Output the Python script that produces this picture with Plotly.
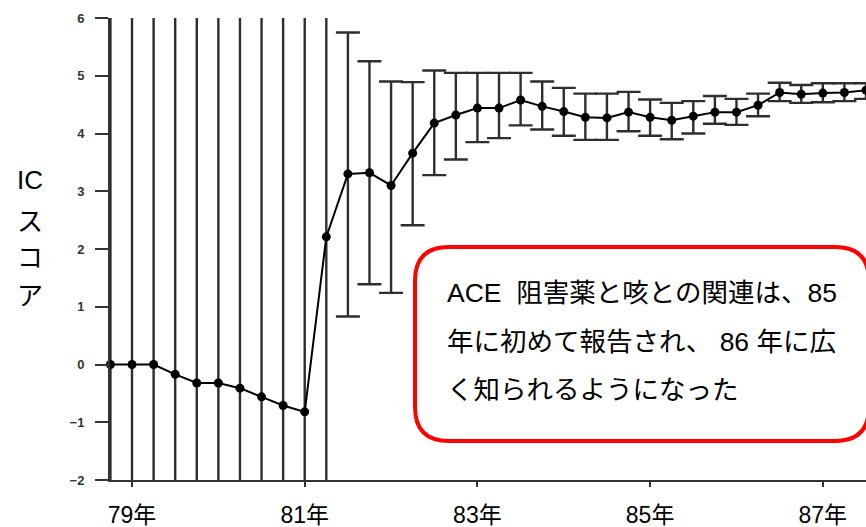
import plotly.graph_objects as go

# ---- data (quarterly IC score) ----
quarters = [78.75, 79.0, 79.25, 79.5, 79.75, 80.0, 80.25, 80.5, 80.75, 81.0,
            81.25, 81.5, 81.75, 82.0, 82.25, 82.5, 82.75, 83.0, 83.25, 83.5,
            83.75, 84.0, 84.25, 84.5, 84.75, 85.0, 85.25, 85.5, 85.75, 86.0,
            86.25, 86.5, 86.75, 87.0, 87.25, 87.5]
ic_score = [0.0, 0.0, 0.0, -0.17, -0.32, -0.32, -0.41, -0.56, -0.71, -0.82,
            2.21, 3.30, 3.32, 3.10, 3.66, 4.18, 4.32, 4.44, 4.44, 4.58,
            4.47, 4.38, 4.28, 4.27, 4.37, 4.28, 4.23, 4.30, 4.37, 4.37,
            4.49, 4.71, 4.68, 4.70, 4.71, 4.75]
ic_upper = [8, 8, 8, 8, 8, 8, 8, 8, 8, 8,
            8, 5.75, 5.25, 4.90, 4.89, 5.09, 5.05, 5.05, 5.05, 5.05,
            4.90, 4.79, 4.69, 4.69, 4.72, 4.59, 4.53, 4.56, 4.65, 4.60,
            4.69, 4.88, 4.84, 4.87, 4.87, 4.87]
ic_lower = [-4, -4, -4, -4, -4, -4, -4, -4, -4, -4,
            -4, 0.83, 1.39, 1.24, 2.41, 3.28, 3.55, 3.85, 3.92, 4.14,
            4.07, 3.96, 3.89, 3.89, 4.04, 3.96, 3.90, 4.00, 4.17, 4.15,
            4.30, 4.56, 4.53, 4.54, 4.56, 4.60]
x_tick_vals = [79, 81, 83, 85, 87]
x_tick_text = ["79年", "81年", "83年", "85年", "87年"]
y_tick_vals = [-2, -1, 0, 1, 2, 3, 4, 5, 6]
y_title_lines = ["IC", "ス", "コ", "ア"]
note_lines = ["ACE  阻害薬と咳との関連は、85",
              "年に初めて報告され、 86 年に広",
              "く知られるようになった"]

err_plus = [u - v for u, v in zip(ic_upper, ic_score)]
err_minus = [v - l for v, l in zip(ic_score, ic_lower)]

W, H = 866, 527
L, R, T, B = 110, 0, 18, 47
PW, PH = W - L - R, H - T - B


def px_x(p):
    return (p - L) / PW


def px_y(p):
    return (H - B - p) / PH


fig = go.Figure()
# error bars (clipped to plot area)
fig.add_trace(go.Scatter(
    x=quarters, y=ic_score, mode="markers",
    marker=dict(size=1, color="rgba(0,0,0,0)"),
    error_y=dict(type="data", symmetric=False, array=err_plus, arrayminus=err_minus,
                 color="#2e2e2e", thickness=2.4, width=12),
    cliponaxis=True, showlegend=False, hoverinfo="skip"))
# line + markers
fig.add_trace(go.Scatter(
    x=quarters, y=ic_score, mode="lines+markers",
    line=dict(color="#000000", width=2),
    marker=dict(size=9, color="#000000"),
    cliponaxis=False, showlegend=False))

AX = "#333333"
fig.update_xaxes(range=[78.745, 87.5], tickmode="array", tickvals=x_tick_vals,
                 ticktext=x_tick_text, ticks="outside", ticklen=5, tickwidth=2,
                 tickcolor=AX, showline=True, linecolor=AX, linewidth=2,
                 showgrid=False, zeroline=False, ticklabelstandoff=8,
                 automargin=False,
                 tickfont=dict(family="Liberation Sans, Noto Sans CJK JP", size=23,
                               color="#000000"))
fig.update_yaxes(range=[-2, 6], tickmode="array", tickvals=y_tick_vals,
                 ticks="outside", ticklen=13, tickwidth=2, tickcolor=AX,
                 showline=True, linecolor=AX, linewidth=2, showgrid=False,
                 zeroline=False, ticklabelstandoff=8, automargin=False,
                 tickfont=dict(family="Liberation Sans", size=13, color="#333333",
                               weight="bold"))

# red rounded note box
bl, br, bt, bb, rad = 415, 869, 247, 441, 34
rx, ry = rad / PW, rad / PH
X0, X1, Y0, Y1 = px_x(bl), px_x(br), px_y(bb), px_y(bt)
path = (f"M {X0+rx},{Y1} L {X1-rx},{Y1} Q {X1},{Y1} {X1},{Y1-ry} "
        f"L {X1},{Y0+ry} Q {X1},{Y0} {X1-rx},{Y0} L {X0+rx},{Y0} "
        f"Q {X0},{Y0} {X0},{Y0+ry} L {X0},{Y1-ry} Q {X0},{Y1} {X0+rx},{Y1} Z")
fig.add_shape(type="path", path=path, xref="paper", yref="paper",
              line=dict(color="#ff0000", width=4), fillcolor="#ffffff", layer="above")

for txt, yy in zip(note_lines, [293, 342, 390]):
    fig.add_annotation(text=txt, xref="paper", yref="paper", x=px_x(445), y=px_y(yy),
                       xanchor="left", yanchor="middle", showarrow=False,
                       font=dict(family="Liberation Sans, Noto Sans CJK JP", size=26.5,
                                 color="#000000"))

for txt, yy in zip(y_title_lines, [180, 222, 258, 296]):
    fig.add_annotation(text=txt, xref="paper", yref="paper", x=px_x(30), y=px_y(yy),
                       xanchor="center", yanchor="middle", showarrow=False,
                       font=dict(family="Liberation Sans, Noto Sans CJK JP", size=26,
                                 color="#000000"))

fig.update_layout(width=W, height=H, margin=dict(l=L, r=R, t=T, b=B),
                  paper_bgcolor="#ffffff", plot_bgcolor="#ffffff")
fig.write_html("out.html", config={"displayModeBar": False},
               post_script="document.body.style.margin='0px';document.body.style.padding='0px';")
